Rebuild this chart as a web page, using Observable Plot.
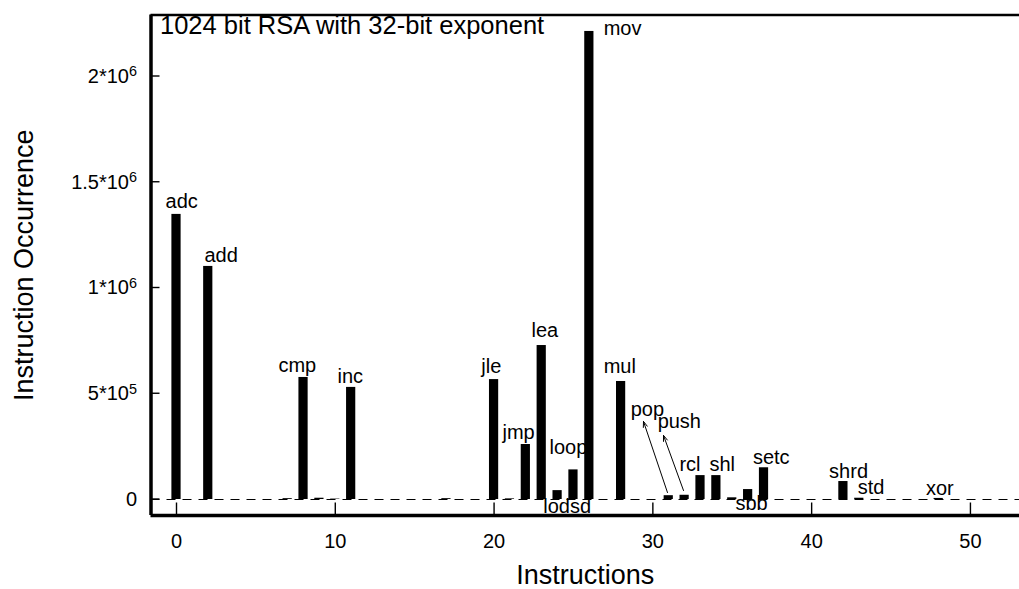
<!DOCTYPE html>
<html><head><meta charset="utf-8">
<script src="https://cdn.jsdelivr.net/npm/d3@7"></script>
<script src="https://cdn.jsdelivr.net/npm/@observablehq/plot@0.6"></script>
<style>body{margin:0;background:#fff} svg{display:block}</style>
</head><body><div id="chart"></div>
<script>
// Data
const categories = ["adc","add","","cmp","","","inc","","jle","","jmp","lea","lodsd","loop","mov","mul","pop","push","rcl","shl","","sbb","setc","shrd","std","xor"];
const positions  = [0,2,7,8,9,10,11,17,20,21,22,23,24,25,26,28,31,32,33,34,35,36,37,42,43,48];
const occurrences = [1348000,1102000,4000,577000,6000,2000,530000,4000,567000,3000,260000,728000,42000,140000,2213000,558000,18000,20000,113000,113000,8000,47000,150000,85000,6000,5000];

// Annotation labels (data coordinates: left edge, baseline)
const labelText = ["adc","add","cmp","inc","jle","jmp","lea","loop","lodsd","mov","mul","pop","push","rcl","shl","setc","sbb","shrd","std","xor"];
const labelX = [-0.69,1.76,6.42,10.14,19.2,20.53,22.36,23.49,23.1,26.9,26.9,28.6,30.3,31.67,33.56,36.3,35.2,41.1,42.9,47.2];
const labelY = [1376000,1121000,605000,553000,600000,288000,766000,213000,-61500,2194000,596000,397000,336000,137000,137000,170000,-52000,104000,28000,19000];

// Arrows (pop, push)
const arrowX1 = [30.92, 31.93];
const arrowY1 = [33000, 42600];
const arrowX2 = [29.41, 30.67];
const arrowY2 = [369000, 303000];

const xTicks = [0,10,20,30,40,50];
const yTicks = [0,500000,1000000,1500000,2000000];
const yTickLabels = ["0","5*10^5","1*10^6","1.5*10^6","2*10^6"];
const xDomain = [-1.606, 53.09];
const yDomain = [-75650, 2290800];

const title = "1024 bit RSA with 32-bit exponent";
const xTitle = "Instructions";
const yTitle = "Instruction Occurrence";

const W = 1019, H = 589, ML = 150.5, MR = 0, MT = 14.5, MB = 74;

const idx = d3.range(positions.length);
const lidx = d3.range(labelText.length);
const aidx = d3.range(arrowX1.length);

const plot = Plot.plot({
  width: W,
  height: H,
  marginLeft: ML,
  marginRight: MR,
  marginTop: MT,
  marginBottom: MB,
  style: {fontFamily: "'Liberation Sans', Arial, Helvetica, sans-serif", background: "#fff", color: "#000"},
  x: {domain: xDomain},
  y: {domain: yDomain},
  marks: [
    Plot.ruleY([0], {stroke: "#000", strokeWidth: 1.2, strokeDasharray: "9,7"}),
    Plot.rect(idx, {x1: i => positions[i] - 0.29, x2: i => positions[i] + 0.29, y1: 0, y2: i => occurrences[i], fill: "#000", inset: 0}),
    Plot.text(lidx, {x: i => labelX[i], y: i => labelY[i], text: i => labelText[i], textAnchor: "start", lineAnchor: "bottom", fontSize: 20, fill: "#000"}),
    Plot.arrow(aidx, {x1: i => arrowX1[i], y1: i => arrowY1[i], x2: i => arrowX2[i], y2: i => arrowY2[i], stroke: "#000", strokeWidth: 1, headLength: 9, headAngle: 40}),
    Plot.axisX({ticks: xTicks, tickSize: 0, tickPadding: 18, fontSize: 20, label: null, tickFormat: d => String(d)}),
    Plot.axisY({ticks: yTicks, tickSize: 0, tickPadding: 14, fontSize: 20, label: null, tickFormat: d => yTickLabels[yTicks.indexOf(d)]}),
    // inward ticks drawn as short pixel-length vectors
    Plot.tickX(xTicks, {x: d => d, frameAnchor: "bottom", insetTop: 488, stroke: "#000", strokeWidth: 1.4}),
    Plot.ruleX([xDomain[0]], {stroke: "#000", strokeWidth: 3.5}),
    Plot.ruleY([yDomain[0]], {stroke: "#000", strokeWidth: 3.5}),
    Plot.ruleY([yDomain[1]], {stroke: "#000", strokeWidth: 2.5}),
    Plot.text([title], {frameAnchor: "top-left", dx: 9, dy: 1, textAnchor: "start", lineAnchor: "top", fontSize: 25.5, fill: "#000"}),
    Plot.text([xTitle], {frameAnchor: "bottom", dy: 68, textAnchor: "middle", lineAnchor: "bottom", fontSize: 27, fill: "#000"}),
    Plot.text([yTitle], {frameAnchor: "left", dx: -127, rotate: -90, textAnchor: "middle", lineAnchor: "middle", fontSize: 27, fill: "#000"})
  ]
});

const ns = "http://www.w3.org/2000/svg";
// superscript exponents in y tick labels
plot.querySelectorAll('[aria-label="y-axis tick label"] text').forEach(t => {
  const s = t.textContent;
  if (s.includes("^")) {
    const [base, exp] = s.split("^");
    t.textContent = "";
    const b = document.createElementNS(ns, "tspan"); b.textContent = base;
    const e = document.createElementNS(ns, "tspan"); e.textContent = exp;
    e.setAttribute("dy", "-0.45em"); e.setAttribute("font-size", "0.72em");
    t.appendChild(b); t.appendChild(e);
  }
});
// inward y ticks (8px) placed with the y scale
const ys = plot.scale("y");
const g = document.createElementNS(ns, "g");
g.setAttribute("aria-label", "y-axis inward ticks");
yTicks.forEach(v => {
  const l = document.createElementNS(ns, "line");
  l.setAttribute("x1", ML); l.setAttribute("x2", ML + 9);
  l.setAttribute("y1", ys.apply(v)); l.setAttribute("y2", ys.apply(v));
  l.setAttribute("stroke", "#000"); l.setAttribute("stroke-width", "1.4");
  g.appendChild(l);
});
plot.appendChild(g);
document.getElementById("chart").appendChild(plot);
</script>
</body></html>
